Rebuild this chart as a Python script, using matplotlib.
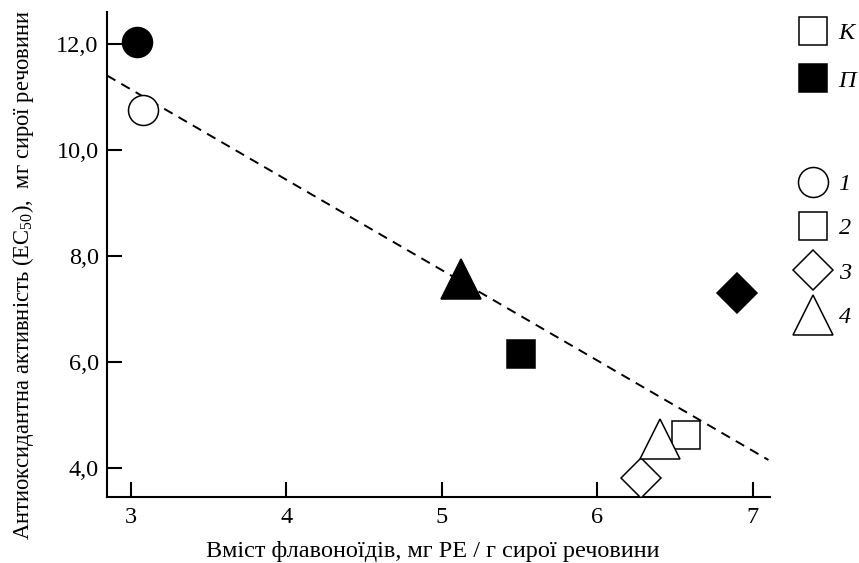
import numpy as np
import matplotlib
matplotlib.use('Agg')
import matplotlib.pyplot as plt
from matplotlib.lines import Line2D

plt.rcParams['font.family'] = ['Liberation Serif', 'DejaVu Serif']
plt.rcParams['mathtext.fontset'] = 'custom'
plt.rcParams['mathtext.rm'] = 'Liberation Serif'

''' ---- data read from the picture ---- '''
# control group (K) - open markers
k_circle = (3.08, 10.75)
k_square = (6.57, 4.63)
k_diamond = (6.28, 3.81)
k_triangle = (6.40, 4.55)

# experiment (П) - filled markers
p_circle = (3.04, 12.05)
p_square = (5.51, 6.15)
p_diamond = (6.90, 7.30)
p_triangle = (5.12, 7.57)

# dashed trend line, ends
trend_x = [2.846, 7.10]
trend_y = [11.41, 4.15]

x_ticks = [3, 4, 5, 6, 7]
y_ticks = [4.0, 6.0, 8.0, 10.0, 12.0]
y_tick_labels = ['4,0', '6,0', '8,0', '10,0', '12,0']

fs = 17.5
ew = 1.1
sizes = {'o': 21.6, 's': 20, 'D': 20, '^': 29}

fig = plt.figure(figsize=(8.59, 5.63), dpi=100)
ax = fig.add_axes([0.1246, 0.1172, 0.7718, 0.8615])

ax.plot(trend_x, trend_y, color='black', lw=1.4, dashes=(5, 3.5), zorder=1)

open_pts = [(k_circle, 'o'), (k_square, 's'), (k_diamond, 'D'), (k_triangle, '^')]
filled_pts = [(p_circle, 'o'), (p_square, 's'), (p_diamond, 'D'), (p_triangle, '^')]
for (x, y), m in open_pts:
    ax.plot([x], [y], marker=m, ms=sizes[m], mfc='white', mec='black', mew=ew,
            ls='none', zorder=3)
for (x, y), m in filled_pts:
    ax.plot([x], [y], marker=m, ms=sizes[m], mfc='black', mec='black', mew=ew,
            ls='none', zorder=3)

ax.set_xlim(2.846, 7.11)
ax.set_ylim(3.45, 12.61)
ax.set_xticks(x_ticks)
ax.set_yticks(y_ticks)
ax.set_yticklabels(y_tick_labels)
ax.tick_params(direction='in', length=10.8, width=1.5, labelsize=fs)
ax.tick_params(axis='x', pad=7)
ax.tick_params(axis='y', pad=6)
for s in ['top', 'right']:
    ax.spines[s].set_visible(False)
for s in ['left', 'bottom']:
    ax.spines[s].set_linewidth(1.5)

ax.set_xlabel('Вміст флавоноїдів, мг РЕ / г сирої речовини', fontsize=fs)
ax.xaxis.set_label_coords(0.492, -0.091)
ax.set_ylabel('Антиоксидантна активність (EC$_{50}$),  мг сирої речовини',
              fontsize=16.3)
ax.yaxis.set_label_coords(-0.107, 0.458)

# legends
def handle(m, fc):
    return Line2D([], [], marker=m, ms=sizes[m], mfc=fc, mec='black', mew=ew, ls='none')

group_labels = ['К', 'П']
leg1 = ax.legend([handle('s', 'white'), handle('s', 'black')], group_labels,
                 loc='upper left', bbox_to_anchor=(1.021, 0.999), frameon=False,
                 prop={'size': fs, 'style': 'italic'}, handletextpad=0.25,
                 labelspacing=1.05, borderaxespad=0, handlelength=1.6)
ax.add_artist(leg1)

part_labels = ['1', '2', '3', '4']
ax.legend([handle('o', 'white'), handle('s', 'white'), handle('D', 'white'),
           handle('^', 'white')], part_labels,
          loc='upper left', bbox_to_anchor=(1.021, 0.688), frameon=False,
          prop={'size': fs, 'style': 'italic'}, handletextpad=0.25,
          labelspacing=0.92, borderaxespad=0, handlelength=1.6)

fig.savefig('out.png', dpi=100)
